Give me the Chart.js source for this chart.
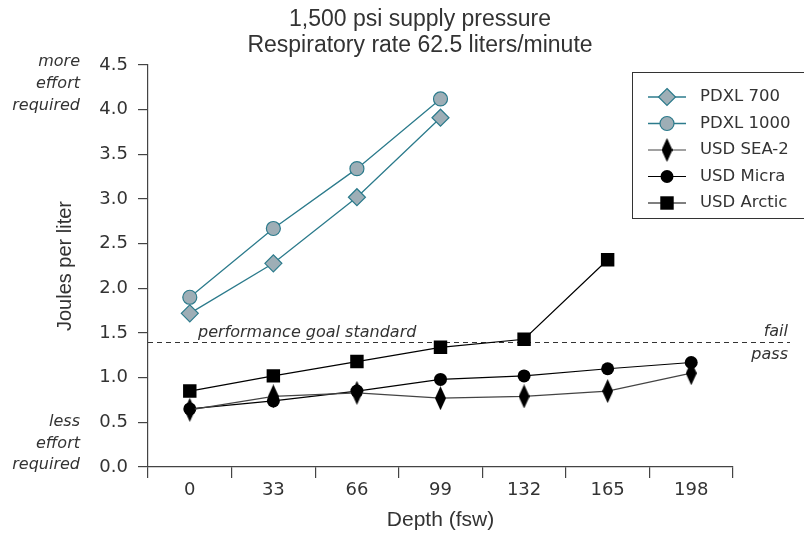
<!DOCTYPE html>
<html>
<head>
<meta charset="utf-8">
<script src="https://cdn.jsdelivr.net/npm/chart.js@4.4.1/dist/chart.umd.min.js"></script>
<style>
  html, body { margin: 0; padding: 0; background: #fff; }
</style>
</head>
<body>
<canvas id="chart" width="804" height="535"></canvas>
<script>
// depth categories (fsw)
const depths = ['0', '33', '66', '99', '132', '165', '198'];

// work of breathing, joules per liter
const pdxl700 = [1.72, 2.28, 3.02, 3.91];
const pdxl1000 = [1.90, 2.67, 3.34, 4.12];
const sea2 = [0.64, 0.79, 0.83, 0.77, 0.79, 0.85, 1.05];
const micra = [0.65, 0.74, 0.85, 0.98, 1.02, 1.10, 1.17];
const arctic = [0.85, 1.02, 1.18, 1.34, 1.43, 2.32];

const seriesNames = ['PDXL 700', 'PDXL 1000', 'USD SEA-2', 'USD Micra', 'USD Arctic'];
const goalValue = 1.4;
const yMin = 0, yMax = 4.5, yStep = 0.5;

const subtitleLines = ['1,500 psi supply pressure', 'Respiratory rate 62.5 liters/minute'];
const moreNote = ['more', 'effort', 'required'];
const lessNote = ['less', 'effort', 'required'];

const teal = '#2c7b8c';
const tealFill = '#9eaeb6';
const textColor = '#333';
const tickFont = { family: '"DejaVu Sans"', size: 18 };
const titleFamily = '"Liberation Sans", Arial, sans-serif';

// tall narrow diamond for SEA-2
const tallDiamond = document.createElement('canvas');
tallDiamond.width = 11;
tallDiamond.height = 24;
(function () {
  const c = tallDiamond.getContext('2d');
  c.fillStyle = '#000';
  c.beginPath();
  c.moveTo(5.5, 0);
  c.lineTo(11, 12);
  c.lineTo(5.5, 24);
  c.lineTo(0, 12);
  c.closePath();
  c.fill();
})();

function drawMarker(ctx, style, r, fill, stroke, bw, x, y) {
  if (style instanceof HTMLCanvasElement) {
    ctx.drawImage(style, x - style.width / 2, y - style.height / 2);
    return;
  }
  ctx.beginPath();
  if (style === 'circle') {
    ctx.arc(x, y, r, 0, Math.PI * 2);
  } else if (style === 'rectRot') {
    ctx.moveTo(x, y - r); ctx.lineTo(x + r, y); ctx.lineTo(x, y + r); ctx.lineTo(x - r, y);
    ctx.closePath();
  } else {
    const s = r * Math.SQRT1_2;
    ctx.rect(x - s, y - s, 2 * s, 2 * s);
  }
  ctx.fillStyle = fill;
  ctx.fill();
  if (bw > 0) {
    ctx.lineWidth = bw;
    ctx.strokeStyle = stroke;
    ctx.stroke();
  }
}

const decor = {
  id: 'decor',
  beforeDatasetsDraw(chart) {
    const { ctx, chartArea, scales } = chart;
    const gy = Math.round(scales.y.getPixelForValue(goalValue)) + 0.5;
    ctx.save();
    ctx.strokeStyle = '#333';
    ctx.lineWidth = 1;
    ctx.setLineDash([5, 4]);
    ctx.beginPath();
    ctx.moveTo(chartArea.left, gy);
    ctx.lineTo(790, gy);
    ctx.stroke();
    ctx.setLineDash([]);
    ctx.fillStyle = textColor;
    ctx.font = 'italic 16px "DejaVu Sans"';
    ctx.textBaseline = 'alphabetic';
    ctx.textAlign = 'left';
    ctx.fillText('performance goal standard', 198, gy - 6);
    ctx.textAlign = 'right';
    ctx.fillText('fail', 788, gy - 7);
    ctx.fillText('pass', 788, gy + 16);
    ctx.restore();
  },
  afterDraw(chart) {
    const { ctx } = chart;
    ctx.save();
    // subtitles
    ctx.fillStyle = textColor;
    ctx.textAlign = 'center';
    ctx.textBaseline = 'middle';
    ctx.font = '23px ' + titleFamily;
    ctx.fillText(subtitleLines[0], 420, 20);
    ctx.fillText(subtitleLines[1], 420, 46);

    // effort notes
    ctx.font = 'italic 16px "DejaVu Sans"';
    ctx.textAlign = 'right';
    moreNote.forEach((t, i) => ctx.fillText(t, 80, 62 + i * 22));
    lessNote.forEach((t, i) => ctx.fillText(t, 80, 422 + i * 21.5));

    // legend box
    ctx.strokeStyle = '#333';
    ctx.lineWidth = 1;
    ctx.strokeRect(632.5, 72.5, 180, 146);
    chart.data.datasets.forEach((ds, i) => {
      const y = 97 + i * 26.5;
      ctx.strokeStyle = ds.borderColor;
      ctx.lineWidth = ds.borderWidth;
      ctx.beginPath();
      ctx.moveTo(648, y);
      ctx.lineTo(686, y);
      ctx.stroke();
      drawMarker(ctx, ds.pointStyle, ds.pointRadius, ds.pointBackgroundColor,
        ds.pointBorderColor, ds.pointBorderWidth, 667, y);
      ctx.fillStyle = textColor;
      ctx.font = '16.5px "DejaVu Sans"';
      ctx.textAlign = 'left';
      ctx.textBaseline = 'middle';
      ctx.fillText(ds.label, 700, y);
    });
    ctx.restore();
  }
};

function series(label, data, color, fill, style, radius, bw, lineW) {
  return {
    label: label,
    data: data,
    borderColor: color,
    borderWidth: lineW,
    pointStyle: style,
    pointRadius: radius,
    pointBackgroundColor: fill,
    pointBorderColor: color,
    pointBorderWidth: bw,
    tension: 0,
    fill: false
  };
}

new Chart(document.getElementById('chart'), {
  type: 'line',
  data: {
    labels: depths,
    datasets: [
      series(seriesNames[0], pdxl700, teal, tealFill, 'rectRot', 8.5, 1.2, 1.3),
      series(seriesNames[1], pdxl1000, teal, tealFill, 'circle', 7, 1.2, 1.3),
      series(seriesNames[2], sea2, '#444', '#000', tallDiamond, 6, 0, 1.2),
      series(seriesNames[3], micra, '#000', '#000', 'circle', 6.5, 0, 1.2),
      series(seriesNames[4], arctic, '#000', '#000', 'rect', 9.5, 0, 1.2)
    ]
  },
  options: {
    responsive: false,
    animation: false,
    devicePixelRatio: 1,
    layout: { padding: { top: 65, right: 71, bottom: 0, left: 0 } },
    plugins: {
      legend: { display: false },
      tooltip: { enabled: false },
      title: { display: false }
    },
    scales: {
      x: {
        offset: true,
        grid: { offset: true, drawOnChartArea: false, tickLength: 11, color: '#444', lineWidth: 1.2 },
        border: { color: '#444', width: 1.2 },
        ticks: { font: tickFont, color: textColor, padding: 2 },
        title: {
          display: true,
          text: 'Depth (fsw)',
          color: textColor,
          font: { family: titleFamily, size: 21 },
          padding: { top: 0, bottom: 2 }
        },
        afterFit(scale) { scale.height = 68; }
      },
      y: {
        min: yMin,
        max: yMax,
        grid: { drawOnChartArea: false, tickLength: 10, color: '#444', lineWidth: 1.2 },
        border: { color: '#444', width: 1.2 },
        ticks: {
          stepSize: yStep,
          font: tickFont,
          color: textColor,
          padding: 10,
          callback: v => v.toFixed(1)
        },
        title: {
          display: true,
          text: 'Joules per liter',
          color: textColor,
          font: { family: titleFamily, size: 20 },
          padding: { top: 53, bottom: 0 }
        },
        afterFit(scale) { scale.width = 148; }
      }
    }
  },
  plugins: [decor]
});
</script>
</body>
</html>
